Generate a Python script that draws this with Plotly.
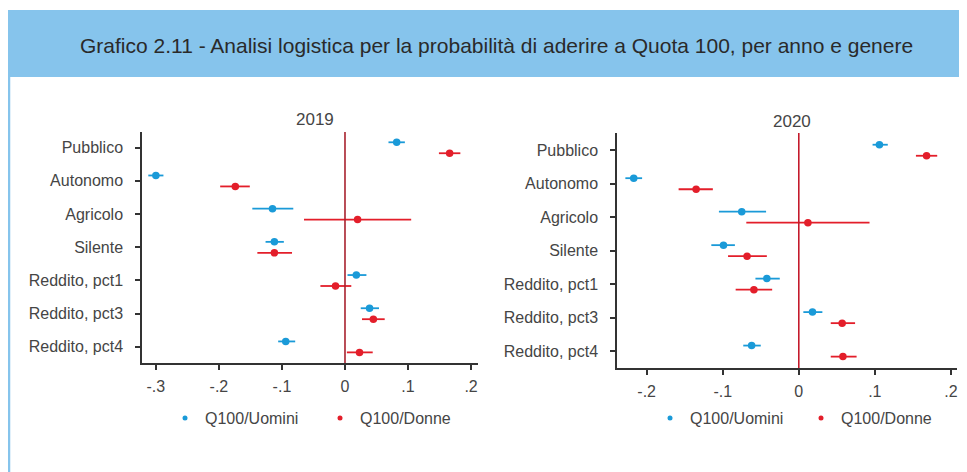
import plotly.graph_objects as go

# categories (top to bottom)
categories = ["Pubblico", "Autonomo", "Agricolo", "Silente",
              "Reddito, pct1", "Reddito, pct3", "Reddito, pct4"]

# 2019 point estimates and confidence intervals
m2019 = [0.082, -0.300, -0.115, -0.112, 0.018, 0.039, -0.094]
m2019_lo = [0.069, -0.312, -0.147, -0.126, 0.004, 0.025, -0.106]
m2019_hi = [0.095, -0.288, -0.082, -0.097, 0.034, 0.054, -0.079]
f2019 = [0.166, -0.174, 0.020, -0.112, -0.015, 0.045, 0.023]
f2019_lo = [0.149, -0.198, -0.065, -0.139, -0.039, 0.027, 0.003]
f2019_hi = [0.183, -0.151, 0.105, -0.084, 0.010, 0.063, 0.044]

# 2020
m2020 = [0.106, -0.217, -0.075, -0.099, -0.042, 0.018, -0.062]
m2020_lo = [0.097, -0.228, -0.105, -0.115, -0.057, 0.006, -0.073]
m2020_hi = [0.117, -0.206, -0.043, -0.084, -0.025, 0.031, -0.050]
f2020 = [0.168, -0.135, 0.012, -0.068, -0.059, 0.057, 0.058]
f2020_lo = [0.154, -0.158, -0.069, -0.093, -0.083, 0.042, 0.042]
f2020_hi = [0.182, -0.113, 0.093, -0.042, -0.035, 0.074, 0.076]

x_tickvals = [-0.3, -0.2, -0.1, 0, 0.1, 0.2]
x_ticktext = ["-.3", "-.2", "-.1", "0", ".1", ".2"]

BLUE = "#1a9ad8"
RED = "#e31e2a"
AXIS = "#333333"
TXT = "#454545"
HEADER = "#86c4ec"
FONT = "Liberation Sans, Arial, sans-serif"

# page has an 8px body margin, so figure is sized to fit the window
W, H, OFF = 959, 464, 8


def fx(px):
    return (px - OFF) / W


def fy(py):
    return 1 - (py - OFF) / H


fig = go.Figure()


def add_series(vals, lo, hi, color, offset, xa, ya):
    ypos = [i + offset for i in range(len(vals))]
    fig.add_trace(go.Scatter(
        x=vals, y=ypos, mode="markers", showlegend=False,
        marker=dict(color=color, size=7.5),
        error_x=dict(type="data", symmetric=False,
                     array=[h - v for h, v in zip(hi, vals)],
                     arrayminus=[v - l for v, l in zip(vals, lo)],
                     color=color, thickness=1.8, width=0),
        xaxis=xa, yaxis=ya,
    ))


def add_legend_entry(color, name, xa, ya, legend):
    fig.add_trace(go.Scatter(
        x=[None], y=[None], mode="markers", name=name,
        marker=dict(color=color, size=5),
        xaxis=xa, yaxis=ya, legend=legend,
    ))


add_series(m2019, m2019_lo, m2019_hi, BLUE, -0.16, "x", "y")
add_series(f2019, f2019_lo, f2019_hi, RED, 0.17, "x", "y")
add_series(m2020, m2020_lo, m2020_hi, BLUE, -0.17, "x2", "y2")
add_series(f2020, f2020_lo, f2020_hi, RED, 0.16, "x2", "y2")
add_legend_entry(BLUE, "Q100/Uomini", "x", "y", "legend")
add_legend_entry(RED, "Q100/Donne", "x", "y", "legend")
add_legend_entry(BLUE, "Q100/Uomini", "x2", "y2", "legend2")
add_legend_entry(RED, "Q100/Donne", "x2", "y2", "legend2")

xaxis_common = dict(
    showline=True, linecolor=AXIS, linewidth=1.5, showgrid=False, zeroline=False,
    ticks="outside", ticklen=5, tickwidth=1.5, tickcolor=AXIS,
    tickvals=x_tickvals, ticktext=x_ticktext, ticklabelstandoff=3,
    tickfont=dict(size=16, color=TXT, family=FONT),
)
yaxis_common = dict(
    showline=True, linecolor=AXIS, linewidth=1.5, showgrid=False, zeroline=False,
    ticks="outside", ticklen=5, tickwidth=1.5, tickcolor=AXIS,
    tickvals=list(range(len(categories))), ticktext=categories,
    ticklabelstandoff=9,
    tickfont=dict(size=16, color=TXT, family=FONT),
)

legend_common = dict(orientation="h", xanchor="left", yanchor="middle",
                     itemwidth=30, font=dict(size=16, color=TXT, family=FONT),
                     bgcolor="rgba(0,0,0,0)")

fig.update_layout(
    width=W, height=H,
    margin=dict(l=0, r=0, t=0, b=0),
    paper_bgcolor="white", plot_bgcolor="white",
    font=dict(family=FONT, color=TXT),
    xaxis=dict(xaxis_common, domain=[fx(142), fx(478)], range=[-0.322, 0.211], anchor="y"),
    yaxis=dict(yaxis_common, domain=[fy(363), fy(132)], range=[6.49, -0.47], anchor="x"),
    xaxis2=dict(xaxis_common, domain=[fx(617), fx(957)], range=[-0.239, 0.208], anchor="y2",
                tickvals=x_tickvals[1:], ticktext=x_ticktext[1:]),
    yaxis2=dict(yaxis_common, domain=[fy(368), fy(133)], range=[6.5, -0.52], anchor="x2"),
    legend=dict(legend_common, x=fx(165), y=fy(418), entrywidth=110),
    legend2=dict(legend_common, x=fx(650), y=fy(418), entrywidth=106),
    shapes=[
        # header band
        dict(type="rect", xref="paper", yref="paper", x0=0, x1=1.0,
             y0=fy(77), y1=fy(10), fillcolor=HEADER, line=dict(width=0), layer="below"),
        # left border
        dict(type="line", xref="paper", yref="paper", x0=fx(9), x1=fx(9),
             y0=0.0, y1=fy(77), line=dict(color=HEADER, width=2.5)),
        # zero reference lines
        dict(type="line", xref="x", yref="y domain", x0=0, x1=0, y0=0, y1=1,
             line=dict(color="#a8222e", width=1.6)),
        dict(type="line", xref="x2", yref="y2 domain", x0=0, x1=0, y0=0, y1=1,
             line=dict(color="#c41a2b", width=1.6)),
    ],
    annotations=[
        dict(text="Grafico 2.11 - Analisi logistica per la probabilità di aderire a Quota 100, per anno e genere",
             xref="paper", yref="paper", x=fx(496), y=fy(45), xanchor="center", yanchor="middle",
             showarrow=False, font=dict(size=21, color="#2a2a2a", family=FONT)),
        dict(text="2019", xref="x domain", yref="y domain", x=0.515, y=1, yanchor="bottom",
             yshift=1, showarrow=False, font=dict(size=17, color=TXT, family=FONT)),
        dict(text="2020", xref="x2 domain", yref="y2 domain", x=0.515, y=1, yanchor="bottom",
             yshift=0, showarrow=False, font=dict(size=17, color=TXT, family=FONT)),
    ],
)

fig.write_html("out.html")
